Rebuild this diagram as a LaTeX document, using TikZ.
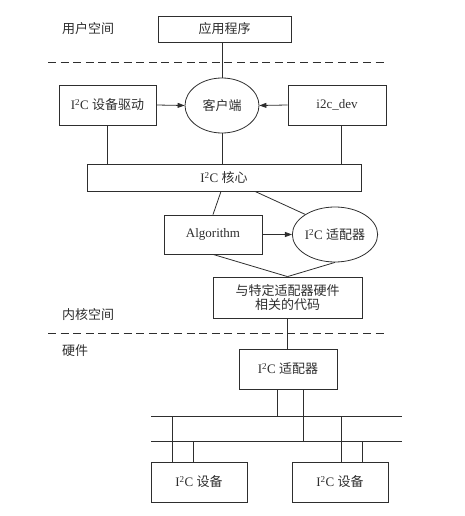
\documentclass[tikz,border=0pt]{standalone}
\usepackage{fontspec}
\setmainfont{Liberation Serif}
\newfontfamily\cjk{Noto Sans CJK SC}
\usetikzlibrary{arrows.meta,shapes.geometric,calc}
\newcommand{\iic}{I\textsuperscript{2}C}
\definecolor{ink}{HTML}{2E2E2E}
\tikzset{
  box/.style={draw=ink, line width=0.8pt, rectangle, inner sep=0pt, text=ink, font=\fontsize{13}{15}\selectfont},
  oval/.style={draw=ink, line width=0.8pt, ellipse, inner sep=0pt, minimum width=74pt, minimum height=55pt, text=ink, font=\fontsize{13}{15}\selectfont},
  conn/.style={draw=ink, line width=0.8pt},
  arr/.style={conn, -{Triangle[length=7pt,width=5pt]}},
  sep/.style={draw=ink, line width=0.9pt, dash pattern=on 8pt off 4.6pt},
  lbl/.style={text=ink, inner sep=0pt, font=\fontsize{13}{15}\selectfont\cjk}
}
\begin{document}
\begin{tikzpicture}[x=1pt,y=-1pt]
\useasboundingbox (0,0) rectangle (464,516);
% section labels
\node[lbl] (lu) at (88,29) {用户空间};
\node[lbl] (lk) at (88,315) {内核空间};
\node[lbl, anchor=west] (lh) at (62,351) {硬件};
% dashed separators
\coordinate (s1l) at (48,62); \coordinate (s1r) at (388,62);
\coordinate (s2l) at (48,333); \coordinate (s2r) at (388,333);
\draw[sep] (s1l) -- (s1r);
\draw[sep] (s2l) -- (s2r);
% nodes
\node[box, minimum width=133pt, minimum height=26pt] (app) at (224.5,29) {\cjk 应用程序};
\node[box, minimum width=97pt, minimum height=40pt] (drv) at (107.5,105) {\iic\ {\cjk 设备驱动}};
\node[oval] (cli) at (222,105.5) {\cjk 客户端};
\node[box, minimum width=98pt, minimum height=40pt] (dev) at (337,105) {i2c\_dev};
\node[box, minimum width=274pt, minimum height=27pt] (core) at (224,177.5) {\iic\ {\cjk 核心}};
\node[box, minimum width=98pt, minimum height=39pt] (algo) at (213,234.5) {Algorithm};
\node[oval] (adp) at (335,234.5) {\iic\ {\cjk 适配器}};
\node[box, minimum width=149pt, minimum height=41pt, align=center] (spec) at (287.5,297.5) {\cjk 与特定适配器硬件\\[-1pt]\cjk 相关的代码};
\node[box, minimum width=98pt, minimum height=40pt] (hw) at (288,369) {\iic\ {\cjk 适配器}};
\node[box, minimum width=96pt, minimum height=40pt] (d1) at (199,482) {\iic\ {\cjk 设备}};
\node[box, minimum width=96pt, minimum height=40pt] (d2) at (340,482) {\iic\ {\cjk 设备}};
% bus
\coordinate (b1l) at (151,416); \coordinate (b1r) at (402,416);
\coordinate (b2l) at (151,441); \coordinate (b2r) at (402,441);
\draw[conn] (b1l) -- (b1r);
\draw[conn] (b2l) -- (b2r);
% helper points
\coordinate (devb) at ($(dev.south)+(4,0)$);
\coordinate (corea) at ($(core.south)+(-3,0)$);
\coordinate (coreb) at ($(core.south)+(31,0)$);
\coordinate (hwa) at ($(hw.south)+(-11,0)$);
\coordinate (hwb) at ($(hw.south)+(15,0)$);
\coordinate (d1a) at ($(d1.north)+(-27,0)$);
\coordinate (d1b) at ($(d1.north)+(-6,0)$);
\coordinate (d2a) at ($(d2.north)+(1,0)$);
\coordinate (d2b) at ($(d2.north)+(22,0)$);
% connectors
\draw[conn] (cli.north |- app.south) -- (cli.north);
\draw[arr] (drv.east) -- (cli.west);
\draw[arr] (dev.west) -- (cli.east);
\draw[conn] (drv.south) -- (drv.south |- core.north);
\draw[conn] (cli.south) -- (cli.south |- core.north);
\draw[conn] (devb) -- (devb |- core.north);
\draw[conn] (corea) -- (algo.north);
\draw[conn] (coreb) -- (adp.146);
\draw[arr] (algo.east) -- (adp.west);
\draw[conn] (algo.south) -- (spec.north);
\draw[conn] (adp.south) -- (spec.north);
\draw[conn] (spec.south) -- (spec.south |- hw.north);
\draw[conn] (hwa) -- (hwa |- b1l);
\draw[conn] (hwb) -- (hwb |- b2l);
\draw[conn] (d1a |- b1l) -- (d1a);
\draw[conn] (d1b |- b2l) -- (d1b);
\draw[conn] (d2a |- b1l) -- (d2a);
\draw[conn] (d2b |- b2l) -- (d2b);
\end{tikzpicture}
\end{document}
